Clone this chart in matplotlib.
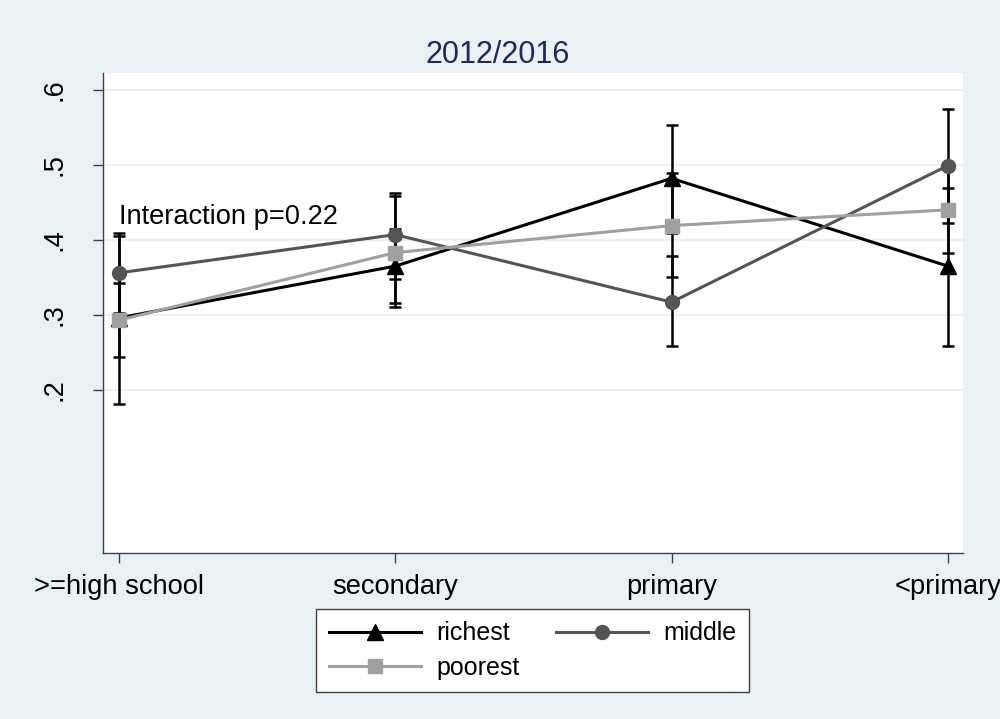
import matplotlib
matplotlib.use("Agg")
import matplotlib.pyplot as plt

plt.rcParams['font.family'] = ['Liberation Sans', 'DejaVu Sans']

# Education categories along the x axis
categories = [">=high school", "secondary", "primary", "<primary"]

# Predicted proportions by wealth group, with 95% CI bounds
richest = [0.296, 0.365, 0.482, 0.365]
richest_lo = [0.181, 0.316, 0.409, 0.258]
richest_hi = [0.409, 0.414, 0.553, 0.469]

middle = [0.356, 0.407, 0.317, 0.499]
middle_lo = [0.303, 0.348, 0.258, 0.423]
middle_hi = [0.405, 0.463, 0.378, 0.575]

poorest = [0.293, 0.383, 0.419, 0.440]
poorest_lo = [0.244, 0.310, 0.351, 0.383]
poorest_hi = [0.342, 0.459, 0.489, 0.497]

y_ticks = [0.2, 0.3, 0.4, 0.5, 0.6]
y_tick_labels = [".2", ".3", ".4", ".5", ".6"]

title = "2012/2016"
note = "Interaction p=0.22"

BG = "#eaf1f3"
FS = 19.6

fig = plt.figure(figsize=(10, 7.19), dpi=100, facecolor=BG)
ax = fig.add_axes([0.1033, 0.2305, 0.86, 0.6675])
ax.set_facecolor("white")

x = list(range(len(categories)))

series = [
    ("richest", richest, richest_lo, richest_hi, "#000000", "^", 11),
    ("middle", middle, middle_lo, middle_hi, "#545454", "o", 10),
    ("poorest", poorest, poorest_lo, poorest_hi, "#a0a0a0", "s", 9.5),
]

for name, vals, lo, hi, col, mk, ms in series:
    yerr = [[v - l for v, l in zip(vals, lo)], [h - v for v, h in zip(vals, hi)]]
    ax.errorbar(x, vals, yerr=yerr, fmt="none", ecolor="black",
                elinewidth=1.8, capsize=4, capthick=1.8, zorder=2)

handles = {}
for name, vals, lo, hi, col, mk, ms in series:
    h, = ax.plot(x, vals, color=col, lw=2.2, marker=mk, markersize=ms,
                 markerfacecolor=col, markeredgecolor=col, zorder=3, label=name)
    handles[name] = h

ax.set_xlim(-0.057, 3.056)
ax.set_ylim(-0.0178, 0.622)
ax.set_xticks(x)
ax.set_xticklabels(categories, fontsize=FS)
ax.set_yticks(y_ticks)
ax.set_yticklabels(y_tick_labels, fontsize=FS, rotation=90, va="center")
ax.grid(axis="y", color=BG, lw=1.5, zorder=0)
ax.set_axisbelow(True)

for s in ["top", "right"]:
    ax.spines[s].set_visible(False)
for s in ["left", "bottom"]:
    ax.spines[s].set_color("#404040")
    ax.spines[s].set_linewidth(1.0)
ax.tick_params(axis="both", length=7, width=1.0, color="#404040")
ax.tick_params(axis="x", pad=8)
ax.tick_params(axis="y", pad=19)

ax.text(0.0, 0.431, note, fontsize=FS, ha="left", va="center", zorder=4)

fig.text(0.4975, 1 - 55 / 719, title, fontsize=22, color="#1c2b58",
         ha="center", va="center")

# column-major fill: richest / poorest in first column, middle in second
leg = fig.legend(handles=[handles["richest"], handles["poorest"], handles["middle"]],
                 loc="upper left",
                 bbox_to_anchor=(0.316, 1 - 609 / 719), ncol=2, fontsize=18,
                 frameon=True, fancybox=False, edgecolor="#404040",
                 framealpha=1, handlelength=3.7, handletextpad=0.6,
                 columnspacing=1.45, borderpad=0.5, labelspacing=0.4,
                 borderaxespad=0)
leg.get_frame().set_linewidth(1.0)

fig.savefig("out.png", dpi=100, facecolor=BG)
